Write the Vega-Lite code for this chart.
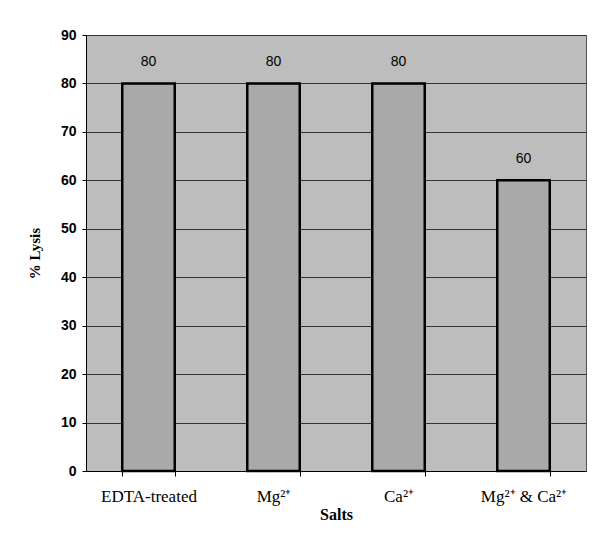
{
  "$schema": "https://vega.github.io/schema/vega-lite/v6.json",
  "width": 500,
  "height": 436,
  "autosize": "none",
  "padding": {"left": 86, "top": 35, "right": 28, "bottom": 63},
  "background": "white",
  "config": {
    "view": {"fill": "#bdbdbd", "stroke": "#555", "strokeWidth": 1}
  },
  "data": {
    "values": [
      {"salt": "EDTA-treated", "lysis": 80},
      {"salt": "Mg²⁺", "lysis": 80},
      {"salt": "Ca²⁺", "lysis": 80},
      {"salt": "Mg²⁺ & Ca²⁺", "lysis": 60}
    ]
  },
  "encoding": {
    "x": {
      "field": "salt",
      "type": "nominal",
      "sort": null,
      "title": "Salts",
      "scale": {"paddingInner": 0.58, "paddingOuter": 0.29},
      "axis": {
        "labelAngle": 0,
        "labelFont": "Liberation Serif",
        "labelFontSize": 17,
        "labelColor": "black",
        "labelPadding": 12,
        "tickBand": "extent",
        "tickSize": 5,
        "tickColor": "black",
        "domainColor": "black",
        "titleFont": "Liberation Serif",
        "titleFontSize": 16,
        "titleFontWeight": "bold",
        "titleColor": "black",
        "titlePadding": 2
      }
    },
    "y": {
      "field": "lysis",
      "type": "quantitative",
      "title": "% Lysis",
      "scale": {"domain": [0, 90]},
      "axis": {
        "values": [0, 10, 20, 30, 40, 50, 60, 70, 80, 90],
        "grid": true,
        "gridColor": "#333",
        "gridWidth": 1,
        "labelFont": "Liberation Sans",
        "labelFontSize": 14,
        "labelFontWeight": "bold",
        "labelColor": "black",
        "labelPadding": 6,
        "tickSize": 4,
        "tickColor": "black",
        "domainColor": "black",
        "titleFont": "Liberation Serif",
        "titleFontSize": 15,
        "titleFontWeight": "bold",
        "titleColor": "black",
        "titlePadding": 18
      }
    }
  },
  "layer": [
    {
      "mark": {"type": "bar", "fill": "#a9a9a9", "stroke": "black", "strokeWidth": 2.5}
    },
    {
      "mark": {"type": "text", "baseline": "bottom", "dy": -14, "font": "Liberation Sans", "fontSize": 14, "color": "black"},
      "encoding": {"text": {"field": "lysis", "type": "quantitative"}}
    }
  ]
}
